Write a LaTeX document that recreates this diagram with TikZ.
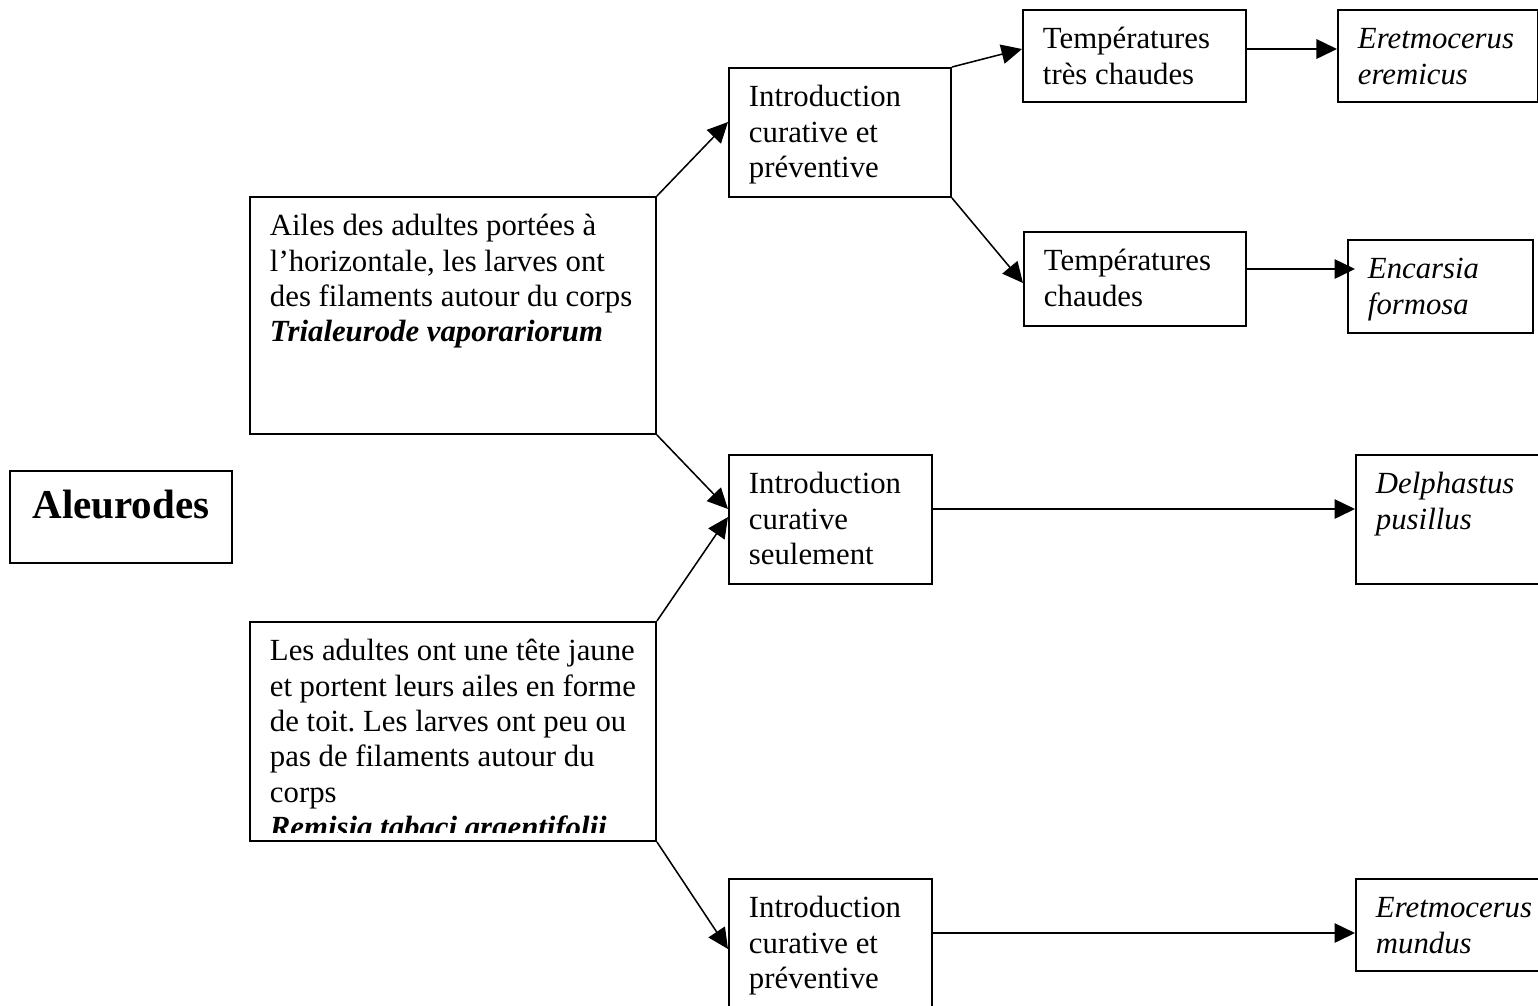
\documentclass[tikz,border=0pt]{standalone}
\usepackage{fontspec}
\setmainfont{Liberation Serif}
\usetikzlibrary{arrows.meta,calc}
\frenchspacing
\newlength{\pxu}
\setlength{\pxu}{0.39pt}
% box text: width, height (px), text
\newcommand{\boxtext}[3]{\parbox[c][\dimexpr#2\pxu-28\pxu\relax][t]{\dimexpr#1\pxu-40\pxu\relax}{\raggedright\strut#3}}

\begin{document}
\begin{tikzpicture}[x=0.39pt, y=-0.39pt,
    box/.style={draw, line width=0.75pt, anchor=north west, inner xsep=7.8pt, inner ysep=5.46pt,
      font=\fontsize{12}{13.8}\selectfont},
    arr/.style={-{Triangle[length=8pt,width=7.6pt]}, line width=0.6pt}]
  \clip (0,0) rectangle (1538,1005);

  % insects
  \node[box, font=\fontsize{16}{18.4}\selectfont\bfseries] (aleu) at (9,470) {\boxtext{222}{92}{\centering Aleurodes}};
  \node[box] (trial) at (249,196) {\boxtext{406}{237}{Ailes des adultes portées à\\ l’horizontale, les larves ont\\ des filaments autour du corps\\ \textbf{\textit{Trialeurode vaporariorum}}}};
  \node[box] (bemisia) at (249,621) {\boxtext{406}{219}{}};
  \begin{scope}
    \clip (bemisia.north west) rectangle ($(bemisia.south east)+(0,-9)$);
    \node[box, draw=none] (bemisiatext) at (bemisia.north west) {\boxtext{406}{219}{Les adultes ont une tête jaune\\ et portent leurs ailes en forme\\ de toit. Les larves ont peu ou\\ pas de filaments autour du\\ corps\\ \textbf{\textit{Remisia tabaci argentifolii}}}};
  \end{scope}

  % introductions
  \node[box] (introA) at (728,67) {\boxtext{222}{129}{Introduction\\ curative et\\ préventive}};
  \node[box] (introB) at (728,454) {\boxtext{203}{129}{Introduction\\ curative\\ seulement}};
  \node[box] (introC) at (728,878) {\boxtext{203}{129}{Introduction\\ curative et\\ préventive}};

  % temperatures
  \node[box] (tempA) at (1022,9) {\boxtext{223}{92}{Températures\\ très chaudes}};
  \node[box] (tempB) at (1023,231) {\boxtext{222}{94}{Températures\\ chaudes}};

  % auxiliaires
  \node[box] (eremicus) at (1337,9) {\boxtext{200}{92}{\itshape Eretmocerus\\ eremicus}};
  \node[box] (encarsia) at (1347,239) {\boxtext{185}{93}{\itshape Encarsia\\ formosa}};
  \node[box] (delph) at (1355,454) {\boxtext{190}{129}{\itshape Delphastus\\ pusillus}};
  \node[box] (mundus) at (1355,878) {\boxtext{190}{92}{\itshape Eretmocerus\\ mundus}};

  \draw[arr] (trial.north east) -- ($(introA.north west)+(0,55)$);
  \draw[arr] (trial.south east) -- ($(introB.north west)+(0,55)$);
  \draw[arr] (bemisia.north east) -- ($(introB.north west)+(0,63)$);
  \draw[arr] (bemisia.south east) -- ($(introC.north west)+(0,71)$);
  \draw[arr] (introA.north east) -- ($(tempA.north west)+(0,40)$);
  \draw[arr] (introA.south east) -- ($(tempB.north west)+(0,52)$);
  \draw[arr] ($(tempA.north east)+(0,40)$) -- ($(eremicus.north west)+(0,40)$);
  \draw[arr] ($(tempB.north east)+(0,38)$) -- ($(encarsia.north west)+(8,30)$);
  \draw[arr] ($(introB.north east)+(0,55)$) -- ($(delph.north west)+(0,55)$);
  \draw[arr] ($(introC.north east)+(0,55)$) -- ($(mundus.north west)+(0,55)$);
\end{tikzpicture}
\end{document}
